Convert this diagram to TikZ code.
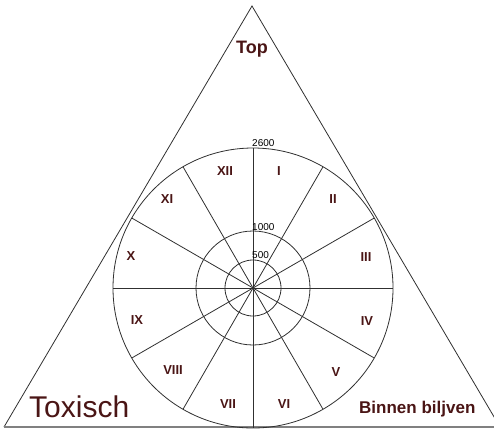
\documentclass[tikz,border=0pt]{standalone}
\usepackage{fontspec}
\setmainfont{Liberation Sans}
\definecolor{txt}{HTML}{4A1515}
\definecolor{ln}{HTML}{303030}
\begin{document}
\begin{tikzpicture}[x=1pt,y=-1pt,
  line/.style={draw=ln,line width=0.8pt},
  num/.style={text=txt,font=\bfseries\fontsize{13}{13}\selectfont,inner sep=0pt},
  val/.style={text=black,font=\fontsize{10}{10}\selectfont,inner sep=0pt,anchor=west}]
\useasboundingbox (0,0) rectangle (494,429);
\coordinate (apex) at (252,6);
\coordinate (bl) at (4,427);
\coordinate (br) at (500,427);
\coordinate (c) at (253,288);
\draw[line] (bl) -- (apex) -- (br);
\draw[draw=gray,line width=1.2pt] (bl) -- (br);
\draw[line] (c) circle (140);
\draw[line] (c) circle (57);
\draw[line] (c) circle (28);
\foreach \a in {0,30,...,330} {\draw[line] (c) -- ++(\a:140);}
\node[text=txt,font=\bfseries\fontsize{18}{18}\selectfont,inner sep=0pt] (top) at (252,49) {Top};
\node[text=txt,font=\fontsize{30}{30}\selectfont,inner sep=0pt,anchor=base west] (tox) at (29,417) {Toxisch};
\node[text=txt,font=\bfseries\fontsize{17}{17}\selectfont,inner sep=0pt,anchor=base west] (bb) at (359,413) {Binnen biljven};
\node[val] (v2600) at (252,143) {2600};
\node[val] (v1000) at (252,227) {1000};
\node[val] (v500) at (252,255) {500};
\node[num] (n1) at (279,171) {I};
\node[num] (n2) at (333,199) {II};
\node[num] (n3) at (366,257) {III};
\node[num] (n4) at (367,321) {IV};
\node[num] (n5) at (336,372) {V};
\node[num] (n6) at (284,404) {VI};
\node[num] (n7) at (228,404) {VII};
\node[num] (n8) at (173,370) {VIII};
\node[num] (n9) at (137,320) {IX};
\node[num] (n10) at (131,256) {X};
\node[num] (n11) at (167,199) {XI};
\node[num] (n12) at (225,171) {XII};
\end{tikzpicture}
\end{document}
